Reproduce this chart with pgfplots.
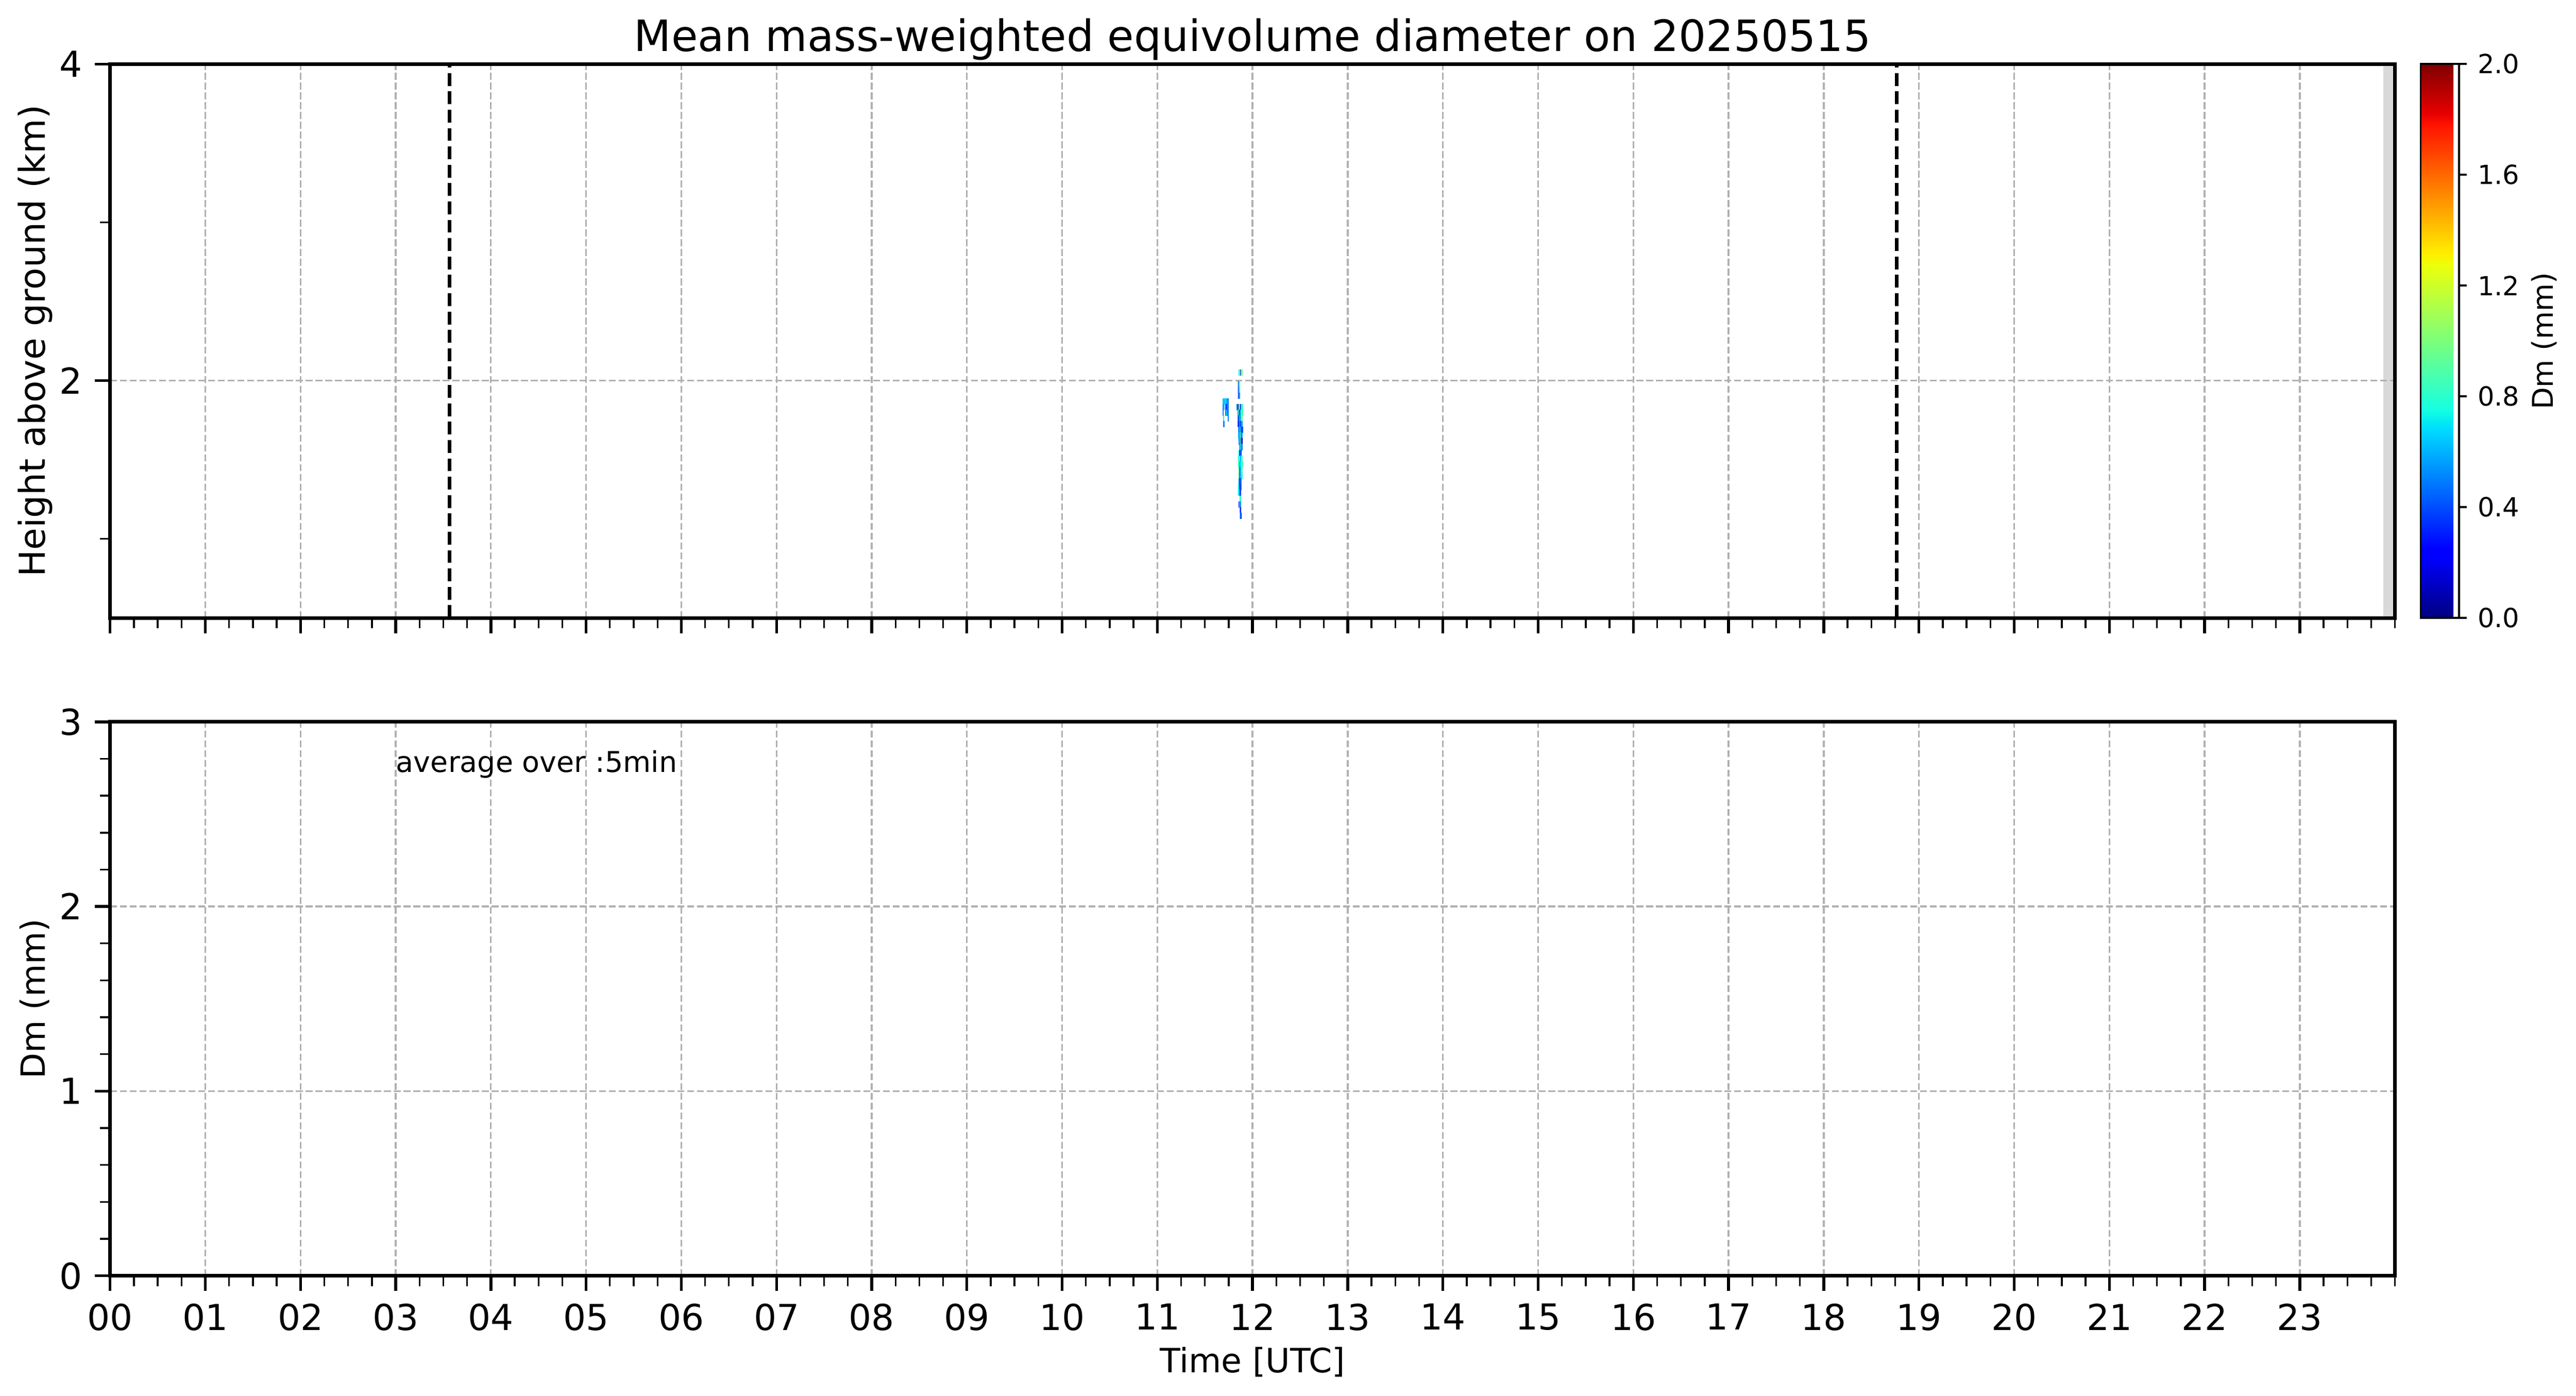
\documentclass[border=0pt]{standalone}
\usepackage{fontspec}
\setmainfont{DejaVu Sans}
\usepackage{pgfplots}
\pgfplotsset{compat=1.18}
\usepackage{pgfplotstable}
\definecolor{gridgray}{RGB}{176,176,176}

\pgfplotsset{
  colormap={mpljet}{rgb(0pt)=(0,0,0.5); rgb(110pt)=(0,0,1); rgb(125pt)=(0,0,1); rgb(340pt)=(0,0.86,1); rgb(350pt)=(0,0.9,0.968); rgb(375pt)=(0.081,1,0.887); rgb(640pt)=(0.935,1,0.032); rgb(650pt)=(0.968,0.963,0); rgb(660pt)=(1,0.926,0); rgb(890pt)=(1,0.074,0); rgb(910pt)=(0.909,0,0); rgb(1000pt)=(0.5,0,0)},
  mystyle/.style={
    scale only axis, width=990.15pt, height=240pt,
    xmin=0, xmax=24,
    xtick={0,...,23}, minor xtick={0,0.25,...,24},
    tick align=outside, xtick pos=left, ytick pos=left,
    axis line style={line width=1.5pt},
    major tick length=6.6pt, minor tick length=4.4pt,
    major tick style={line width=1.2pt, black},
    minor tick style={line width=0.75pt, black},
    grid=major,
    major grid style={line width=0.75pt, color=gridgray, dash pattern=on 2.96pt off 1.28pt},
    /pgf/number format/assume math mode=true,
    tick label style={font=\fontsize{15.5}{18}\selectfont},
    xticklabel style={anchor=north, inner sep=0pt, yshift=-5.3pt},
    yticklabel style={anchor=east, inner sep=0pt, xshift=-5.25pt},
    every axis y label/.style={at={(axis description cs:-0.02848,0.5)}, rotate=90, anchor=base},
    every axis x label/.style={at={(axis description cs:0.5,-0.1749)}, anchor=base},
    every axis title/.style={at={(axis description cs:0.5,1.0234)}, anchor=base},
  }
}

\pgfplotstableread{
x y c
11.856 2.051 0.75
11.874 2.051 0.10
11.880 2.051 0.90
11.887 2.051 0.95
11.850 1.979 0.30
11.856 1.979 0.85
11.862 1.979 0.90
11.850 1.942 0.20
11.856 1.942 0.70
11.862 1.942 0.75
11.850 1.906 0.35
11.856 1.906 0.50
11.862 1.906 0.55
11.687 1.870 0.62
11.693 1.870 0.62
11.699 1.870 0.65
11.711 1.870 0.62
11.717 1.870 0.68
11.723 1.870 0.72
11.729 1.870 0.60
11.735 1.870 0.55
11.741 1.870 0.50
11.687 1.834 0.50
11.693 1.834 0.55
11.699 1.834 0.62
11.717 1.834 0.55
11.723 1.834 0.30
11.735 1.834 0.50
11.741 1.834 0.50
11.838 1.834 0.50
11.844 1.834 0.40
11.850 1.834 0.30
11.856 1.834 1.00
11.862 1.834 1.15
11.868 1.834 0.75
11.874 1.834 0.10
11.880 1.834 0.55
11.887 1.834 0.90
11.893 1.834 0.85
11.687 1.798 0.50
11.717 1.798 0.50
11.729 1.798 0.72
11.735 1.798 0.50
11.741 1.798 0.50
11.844 1.798 0.50
11.850 1.798 0.70
11.856 1.798 0.90
11.862 1.798 0.15
11.868 1.798 0.55
11.874 1.798 0.50
11.880 1.798 0.85
11.887 1.798 0.90
11.893 1.798 0.85
11.693 1.762 0.72
11.741 1.762 0.50
11.844 1.762 0.50
11.850 1.762 0.55
11.856 1.762 0.10
11.862 1.762 0.70
11.868 1.762 0.55
11.874 1.762 0.50
11.880 1.762 0.85
11.887 1.762 0.90
11.693 1.726 0.50
11.699 1.726 0.50
11.844 1.726 0.45
11.850 1.726 0.35
11.856 1.726 0.20
11.862 1.726 0.70
11.868 1.726 0.40
11.874 1.726 0.35
11.880 1.726 0.50
11.887 1.726 0.55
11.850 1.689 0.72
11.856 1.689 0.40
11.862 1.689 0.45
11.868 1.689 0.88
11.874 1.689 0.55
11.880 1.689 0.50
11.887 1.689 0.35
11.893 1.689 0.40
11.850 1.653 0.72
11.856 1.653 0.50
11.862 1.653 0.55
11.868 1.653 0.72
11.874 1.653 0.88
11.880 1.653 0.50
11.887 1.653 0.55
11.856 1.617 0.50
11.862 1.617 0.72
11.868 1.617 0.55
11.874 1.617 0.50
11.880 1.617 0.88
11.887 1.617 0.10
11.868 1.581 0.10
11.874 1.581 0.72
11.880 1.581 0.85
11.887 1.581 0.50
11.856 1.545 0.72
11.862 1.545 0.55
11.868 1.545 0.10
11.874 1.545 0.55
11.880 1.545 0.35
11.850 1.509 0.72
11.868 1.509 0.55
11.874 1.509 0.60
11.880 1.509 0.72
11.887 1.509 0.88
11.850 1.472 0.88
11.856 1.472 0.75
11.862 1.472 0.70
11.868 1.472 0.55
11.874 1.472 0.70
11.880 1.472 0.72
11.887 1.472 0.88
11.893 1.472 0.85
11.856 1.436 0.88
11.862 1.436 0.55
11.868 1.436 0.50
11.874 1.436 0.55
11.880 1.436 0.72
11.887 1.436 0.88
11.856 1.400 0.90
11.862 1.400 0.55
11.868 1.400 0.50
11.874 1.400 0.50
11.880 1.400 0.88
11.887 1.400 0.75
11.856 1.364 0.50
11.862 1.364 0.50
11.868 1.364 0.35
11.874 1.364 0.40
11.880 1.364 0.50
11.850 1.328 0.72
11.856 1.328 0.75
11.862 1.328 0.50
11.868 1.328 0.20
11.874 1.328 0.30
11.880 1.328 0.50
11.850 1.292 0.72
11.856 1.292 0.70
11.862 1.292 0.55
11.868 1.292 0.50
11.874 1.292 0.35
11.868 1.255 0.72
11.874 1.255 0.85
11.856 1.219 0.35
11.862 1.219 0.50
11.868 1.219 0.72
11.874 1.219 0.50
11.868 1.183 0.55
11.874 1.183 0.30
11.868 1.147 0.72
11.874 1.147 0.50
11.880 1.147 0.30
}\dmcells

\begin{document}
\begin{tikzpicture}
\path[use as bounding box] (0,0) rectangle (1116.3pt,604.65pt);

\begin{axis}[mystyle, at={(47.7pt,336.9pt)}, anchor=south west,
  ymin=0.5, ymax=4, ytick={2,4}, minor ytick={1,3},
  xticklabels={},
  ylabel={Height above ground (km)}, ylabel style={font=\fontsize{15.5}{18}\selectfont},
  title={Mean mass-weighted equivolume diameter on 20250515},
  title style={font=\fontsize{18.7}{22}\selectfont},
  axis on top,
  colormap name=mpljet,
  point meta min=0, point meta max=2,
  colorbar,
  colorbar style={
    at={(parent axis.south east)}, anchor=south west, xshift=2.56pt,
    scale only axis, width=16.65pt, height=240pt,
    ytick={0,0.4,0.8,1.2,1.6,2}, ytick pos=right,
    axis line style={line width=0.8pt},
    tick align=outside, major tick length=3.3pt,
    major tick style={line width=0.8pt, black},
    /pgf/number format/assume math mode=true,
    yticklabel style={anchor=west, inner sep=0pt, xshift=4.6pt, font=\fontsize{11.4}{13}\selectfont,
      /pgf/number format/.cd, fixed, fixed zerofill, precision=1},
    ylabel={Dm (mm)},
    every axis y label/.style={at={(axis description cs:3.45,0.5)}, rotate=90, anchor=base, font=\fontsize{12.4}{14}\selectfont},
  },
]
\addplot[fill=gray!30, draw=none, forget plot] coordinates {(23.88,0.5) (24,0.5) (24,4) (23.88,4)};
\addplot[black, line width=1.5pt, dash pattern=on 5.55pt off 2.4pt, forget plot] coordinates {(3.567,0.5) (3.567,4)};
\addplot[black, line width=1.5pt, dash pattern=on 5.55pt off 2.4pt, forget plot] coordinates {(18.765,0.5) (18.765,4)};
\addplot[scatter, only marks, mark=square*, mark size=1.24pt,
  mark options={xscale=0.101, line width=0.1pt},
  scatter/use mapped color={draw=mapped color, fill=mapped color},
  point meta=explicit] table[x=x, y=y, meta=c] {\dmcells};
\end{axis}

\begin{axis}[mystyle, at={(47.7pt,51.9pt)}, anchor=south west,
  ymin=0, ymax=3, ytick={0,1,2,3},
  minor ytick={0.2,0.4,0.6,0.8,1.2,1.4,1.6,1.8,2.2,2.4,2.6,2.8},
  xticklabels={00,01,02,03,04,05,06,07,08,09,10,11,12,13,14,15,16,17,18,19,20,21,22,23},
  xlabel={Time [UTC]}, xlabel style={font=\fontsize{14.5}{17}\selectfont},
  ylabel={Dm (mm)}, ylabel style={font=\fontsize{14.5}{17}\selectfont},
]
\addplot[draw=none, forget plot] coordinates {(0,0) (24,3)};
\node[anchor=base west, inner sep=0pt, font=\fontsize{12.4}{14}\selectfont] at (axis cs:3,2.727) {average over :5min};
\end{axis}
\end{tikzpicture}
\end{document}
